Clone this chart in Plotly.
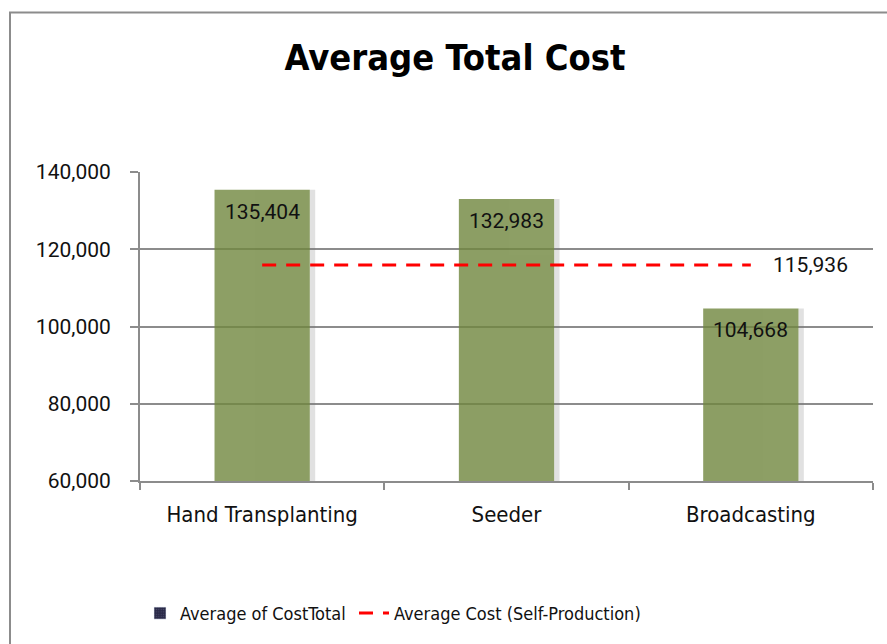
import plotly.graph_objects as go

categories = ["Hand Transplanting", "Seeder", "Broadcasting"]
avg_cost_total = [135404, 132983, 104668]
avg_self_production = 115936
y_ticks = [60000, 80000, 100000, 120000, 140000]

W, H = 887, 644
L, R, T, B = 140, 14, 172, 160
pw, ph = W - L - R, H - T - B

def px_to_paper_x(px):
    return (px - L) / pw

def px_to_paper_y(py):
    return (H - B - py) / ph

NARROW = "Liberation Sans Narrow, DejaVu Sans Condensed, Arial Narrow, sans-serif"
REG = "Roboto, Noto Sans, sans-serif"
GRID = "#8c8c8c"
BAR_W = 0.39

fig = go.Figure()

# soft shadow strip on the right of each bar
fig.add_trace(go.Bar(
    x=categories, y=avg_cost_total, width=0.022, offset=BAR_W / 2,
    marker=dict(color="rgba(120,120,120,0.22)", line=dict(width=0)),
    showlegend=False, hoverinfo="skip",
))

fig.add_trace(go.Bar(
    x=categories, y=avg_cost_total, width=BAR_W, offset=-BAR_W / 2,
    marker=dict(color="#70873e", line=dict(width=0)), opacity=0.8,
    showlegend=False,
))

for c, v in zip(categories, avg_cost_total):
    fig.add_annotation(
        x=c, y=v, text=f"{v:,}", xanchor="center", yanchor="top", yshift=-8,
        showarrow=False, font=dict(family=REG, size=21, color="#111111"),
    )

# legend-only swatch for the bar series
fig.add_trace(go.Bar(
    x=[categories[0]], y=[None], name="Average of CostTotal",
    marker=dict(color="#2a2a48", pattern=dict(shape=".", fgcolor="#6a6a90", size=3)),
    showlegend=True, legend="legend",
))

fig.add_trace(go.Scatter(
    x=[categories[0], categories[-1]], y=[avg_self_production] * 2,
    mode="lines", name="Average Cost (Self-Production)",
    line=dict(color="#ff0000", width=3, dash="14px,10px"),
    legend="legend2",
))

fig.add_annotation(
    x=categories[-1], y=avg_self_production, text=f"{avg_self_production:,}",
    xanchor="left", yanchor="middle", xshift=20, showarrow=False,
    font=dict(family=REG, size=21, color="#111111"),
)

fig.add_shape(
    type="rect", xref="paper", yref="paper",
    x0=px_to_paper_x(10), x1=px_to_paper_x(W + 20),
    y0=px_to_paper_y(H + 20), y1=px_to_paper_y(11),
    line=dict(color=GRID, width=2), fillcolor="rgba(0,0,0,0)", layer="below",
)

legend_font = dict(family=NARROW, size=18, color="#111111")

fig.update_layout(
    width=W, height=H,
    margin=dict(l=L, r=R, t=T, b=B),
    paper_bgcolor="white", plot_bgcolor="white",
    barmode="overlay",
    title=dict(text="<b>Average Total Cost</b>", x=455 / W, xanchor="center",
               y=1 - 57 / H, yanchor="middle",
               font=dict(family=NARROW, size=36, color="black")),
    xaxis=dict(
        showline=True, linecolor=GRID, linewidth=2,
        ticks="outside", tickson="boundaries", ticklen=7, tickcolor=GRID, tickwidth=2,
        tickfont=dict(family=NARROW, size=22, color="#111111"),
        ticklabelstandoff=13,
        showgrid=False,
    ),
    yaxis=dict(
        range=[60000, 140000], tickvals=y_ticks,
        ticktext=[f"{v:,}" for v in y_ticks],
        showline=True, linecolor=GRID, linewidth=2,
        ticks="outside", ticklen=8, tickcolor=GRID, tickwidth=2,
        showgrid=True, gridcolor=GRID, gridwidth=1.5,
        tickfont=dict(family=REG, size=21, color="#111111"),
        ticklabelstandoff=15,
        zeroline=False,
    ),
    legend=dict(
        orientation="h", x=px_to_paper_x(140), xanchor="left",
        y=px_to_paper_y(599), yanchor="top",
        font=legend_font, bgcolor="rgba(0,0,0,0)",
    ),
    legend2=dict(
        orientation="h", x=px_to_paper_x(354), xanchor="left",
        y=px_to_paper_y(599), yanchor="top",
        font=legend_font, bgcolor="rgba(0,0,0,0)",
    ),
)

fig.write_html("out.html", config={"displayModeBar": False},
               post_script="document.body.style.margin='0px';")
